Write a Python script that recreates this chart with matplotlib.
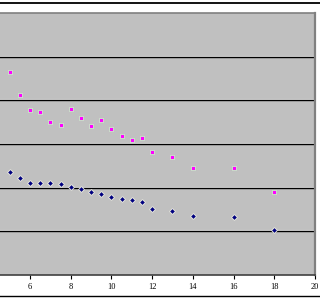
import matplotlib
matplotlib.use("Agg")
import matplotlib.pyplot as plt
from matplotlib.lines import Line2D

# верхняя серия (розовые квадраты)
x_top = [5, 5.5, 6, 6.5, 7, 7.5, 8, 8.5, 9, 9.5, 10, 10.5, 11, 11.5, 12, 13, 14, 16, 18]
y_top = [4.66, 4.13, 3.78, 3.74, 3.51, 3.44, 3.80, 3.60, 3.41, 3.54, 3.35, 3.18, 3.10, 3.13,
         2.81, 2.70, 2.45, 2.45, 1.90]

# нижняя серия (тёмно-синие ромбы)
x_bot = [5, 5.5, 6, 6.5, 7, 7.5, 8, 8.5, 9, 9.5, 10, 10.5, 11, 11.5, 12, 13, 14, 16, 18]
y_bot = [2.35, 2.23, 2.11, 2.11, 2.11, 2.08, 2.02, 1.96, 1.90, 1.85, 1.79, 1.73, 1.71, 1.68,
         1.51, 1.47, 1.34, 1.33, 1.03]

x_ticks = [6, 8, 10, 12, 14, 16, 18, 20]
grid_y = [1, 2, 3, 4, 5]

fig = plt.figure(figsize=(3.2, 3.0), dpi=100)
fig.patch.set_facecolor("white")
ax = fig.add_axes([0, 25 / 300, 315 / 320, 262 / 300])
ax.set_facecolor("#c0c0c0")
ax.set_xlim(4.527, 20)
ax.set_ylim(0, 6)

px = 6 / 262  # один пиксель по y
for g in grid_y:
    ax.axhline(g + px, color="#eeeeee", lw=0.8, zorder=1)
    ax.axhline(g, color="black", lw=1.0, zorder=1)

ax.scatter(x_top, y_top, marker="s", s=12, c="#ff00ff", edgecolors="#c8f0c8",
           linewidths=0.6, zorder=3)
ax.scatter(x_bot, y_bot, marker="D", s=9, c="#000080", edgecolors="#f0f0e0",
           linewidths=0.6, zorder=3)

ax.set_xticks(x_ticks)
ax.set_xticklabels([str(t) for t in x_ticks], fontsize=6, family="Liberation Serif")
ax.set_yticks([])
ax.tick_params(axis="x", length=3, width=0.8, pad=3, color="black")

ax.spines["left"].set_visible(False)
ax.spines["top"].set_color("#808080")
ax.spines["top"].set_linewidth(1.2)
ax.spines["right"].set_color("#808080")
ax.spines["right"].set_linewidth(1.6)
ax.spines["bottom"].set_color("#404040")
ax.spines["bottom"].set_linewidth(1.2)

# чёрные линии рамки сверху и снизу
fig.add_artist(Line2D([0, 1], [1 - 2.5 / 300, 1 - 2.5 / 300], color="black", lw=1.3))
fig.add_artist(Line2D([0, 1], [4 / 300, 4 / 300], color="black", lw=1.0))

fig.savefig("out.png", dpi=100)
